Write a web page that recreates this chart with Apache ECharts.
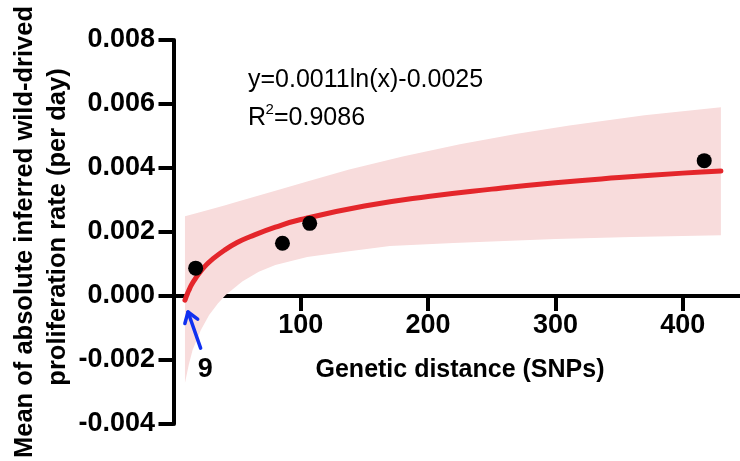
<!DOCTYPE html>
<html>
<head>
<meta charset="utf-8">
<script src="https://cdn.jsdelivr.net/npm/echarts@6/dist/echarts.min.js"></script>
<style>
  html, body { margin: 0; padding: 0; background: #fff; }
  #chart { width: 740px; height: 461px; }
</style>
</head>
<body>
<div id="chart"></div>
<script>
// observed points: genetic distance (SNPs) vs mean proliferation rate
const pointX = [17.4, 85.6, 107, 416.9];
const pointY = [0.00087, 0.00165, 0.00227, 0.00423];

// fitted log curve
const fitX = [9, 10, 11, 12, 14, 16, 20, 25, 30, 40, 50, 60, 80, 100, 150, 200, 250, 300, 350, 400, 430];
const fitY = [-0.00013, -0.00002, 0.00008, 0.00017, 0.00034, 0.00047, 0.0007, 0.00094, 0.00113,
  0.00143, 0.00167, 0.00185, 0.00215, 0.00239, 0.00281, 0.00311, 0.00334, 0.00354, 0.0037,
  0.00384, 0.00391];

// confidence band edges
const upperX = [9, 20, 40, 52, 80, 105, 138, 180, 225, 270, 311, 370, 430];
const upperY = [0.00249, 0.00261, 0.00283, 0.00297, 0.00329, 0.00358, 0.00395, 0.00436, 0.00474,
  0.00507, 0.00533, 0.00565, 0.0059];
const lowerX = [9, 12, 15, 21.5, 28, 35, 41, 54, 67, 80, 105, 135, 170, 220, 300, 360, 430];
const lowerY = [-0.00272, -0.00215, -0.00169, -0.00106, -0.00059, -0.00023, 0.00003, 0.00045,
  0.00076, 0.00097, 0.00122, 0.00138, 0.00156, 0.00166, 0.00178, 0.00184, 0.0019];

const xTicks = [100, 200, 300, 400];
const yTitle = ['Mean of absolute inferred wild-drived', 'proliferation rate (per day)'];

// arrow pointing at x = 9 (tail -> tip), and its label position
const arrowTail = [21.3, -0.00163];
const arrowTip = [11.4, -0.0005];
const arrowLabel = { text: '9', at: [25, -0.0023] };

const FONT = 'Liberation Sans, Arial, Helvetica, sans-serif';
const GRID = { left: 173.5, right: 0, top: 40, bottom: 37 };
const Y_MIN = -0.004, Y_MAX = 0.008;
// x axis drawn through y = 0: shift it up from the grid bottom
const plotH = 461 - GRID.top - GRID.bottom;
const xAxisOffset = -plotH * (0 - Y_MIN) / (Y_MAX - Y_MIN);

const chart = echarts.init(document.getElementById('chart'));

const option = {
  animation: false,
  backgroundColor: '#fff',
  grid: Object.assign({ outerBoundsMode: 'none', containLabel: false }, GRID),
  xAxis: {
    type: 'value',
    min: 0,
    max: 445,
    interval: 100,
    position: 'bottom',
    offset: xAxisOffset,
    splitLine: { show: false },
    axisLine: { onZero: false, lineStyle: { color: '#000', width: 4 } },
    axisTick: { show: true, length: 15, customValues: xTicks, lineStyle: { color: '#000', width: 4 } },
    axisLabel: {
      customValues: xTicks,
      margin: 16,
      fontFamily: FONT, fontWeight: 'bold', fontSize: 27, color: '#000'
    }
  },
  yAxis: {
    type: 'value',
    min: Y_MIN,
    max: Y_MAX,
    interval: 0.002,
    splitLine: { show: false },
    axisLine: { show: true, onZero: false, lineStyle: { color: '#000', width: 4 } },
    axisTick: { show: true, length: 15, lineStyle: { color: '#000', width: 4 } },
    axisLabel: {
      margin: 18.5,
      fontFamily: FONT, fontWeight: 'bold', fontSize: 27, color: '#000',
      formatter: v => v.toFixed(3)
    }
  },
  series: [
    {
      type: 'custom',
      clip: true,
      z: 1,
      data: [[upperX[0], upperY[0]]],
      renderItem: (params, api) => {
        const pts = [];
        upperX.forEach((x, i) => pts.push(api.coord([x, upperY[i]])));
        for (let i = lowerX.length - 1; i >= 0; i--) pts.push(api.coord([lowerX[i], lowerY[i]]));
        return { type: 'polygon', shape: { points: pts }, style: { fill: '#f8dcdc' } };
      }
    },
    {
      type: 'line',
      z: 3,
      smooth: true,
      showSymbol: false,
      data: fitX.map((x, i) => [x, fitY[i]]),
      lineStyle: { color: '#e4262b', width: 5, cap: 'round' }
    },
    {
      type: 'scatter',
      z: 4,
      symbolSize: 15,
      itemStyle: { color: '#000', opacity: 1 },
      data: pointX.map((x, i) => [x, pointY[i]])
    }
  ]
};

chart.setOption(option);

// annotations: arrow to x = 9, axis titles, equation text
function drawAnnotations() {
  const tail = chart.convertToPixel({ gridIndex: 0 }, arrowTail);
  const tip = chart.convertToPixel({ gridIndex: 0 }, arrowTip);
  const lab = chart.convertToPixel({ gridIndex: 0 }, arrowLabel.at);
  const ang = Math.atan2(tip[1] - tail[1], tip[0] - tail[0]);
  const head = 12, spread = 0.6;
  const a1 = [tip[0] - head * Math.cos(ang - spread), tip[1] - head * Math.sin(ang - spread)];
  const a2 = [tip[0] - head * Math.cos(ang + spread), tip[1] - head * Math.sin(ang + spread)];
  const blue = '#1030f0';
  const titleStyle = { fontFamily: FONT, fontWeight: 'bold', fontSize: 25, fill: '#000',
    align: 'center', verticalAlign: 'middle' };

  chart.setOption({
    graphic: [
      { type: 'line', z: 10, shape: { x1: tail[0], y1: tail[1], x2: tip[0], y2: tip[1] },
        style: { stroke: blue, lineWidth: 3.5, lineCap: 'round' } },
      { type: 'polyline', z: 10, shape: { points: [a1, tip, a2] },
        style: { stroke: blue, lineWidth: 3.5, lineCap: 'round', lineJoin: 'round', fill: null } },
      { type: 'text', z: 10, x: lab[0], y: lab[1],
        style: { text: arrowLabel.text, fontFamily: FONT, fontWeight: 'bold', fontSize: 27,
          fill: '#000', align: 'center', verticalAlign: 'middle' } },
      { type: 'text', z: 10, x: 460, y: 370,
        style: Object.assign({ text: 'Genetic distance (SNPs)' }, titleStyle) },
      { type: 'text', z: 10, x: 25, y: 232, rotation: Math.PI / 2,
        style: Object.assign({ text: yTitle[0] }, titleStyle, { fontSize: 25.5 }) },
      { type: 'text', z: 10, x: 58, y: 227, rotation: Math.PI / 2,
        style: Object.assign({ text: yTitle[1] }, titleStyle, { fontSize: 25.5 }) },
      { type: 'text', z: 10, x: 248, y: 80,
        style: { text: 'y=0.0011ln(x)-0.0025', fontFamily: FONT, fontSize: 25, fill: '#000',
          align: 'left', verticalAlign: 'middle' } },
      { type: 'text', z: 10, x: 248, y: 118,
        style: { text: 'R', fontFamily: FONT, fontSize: 25, fill: '#000', align: 'left', verticalAlign: 'middle' } },
      { type: 'text', z: 10, x: 265.5, y: 110,
        style: { text: '2', fontFamily: FONT, fontSize: 15, fill: '#000', align: 'left', verticalAlign: 'middle' } },
      { type: 'text', z: 10, x: 274, y: 118,
        style: { text: '=0.9086', fontFamily: FONT, fontSize: 25, fill: '#000', align: 'left', verticalAlign: 'middle' } }
    ]
  });
}

drawAnnotations();
</script>
</body>
</html>
